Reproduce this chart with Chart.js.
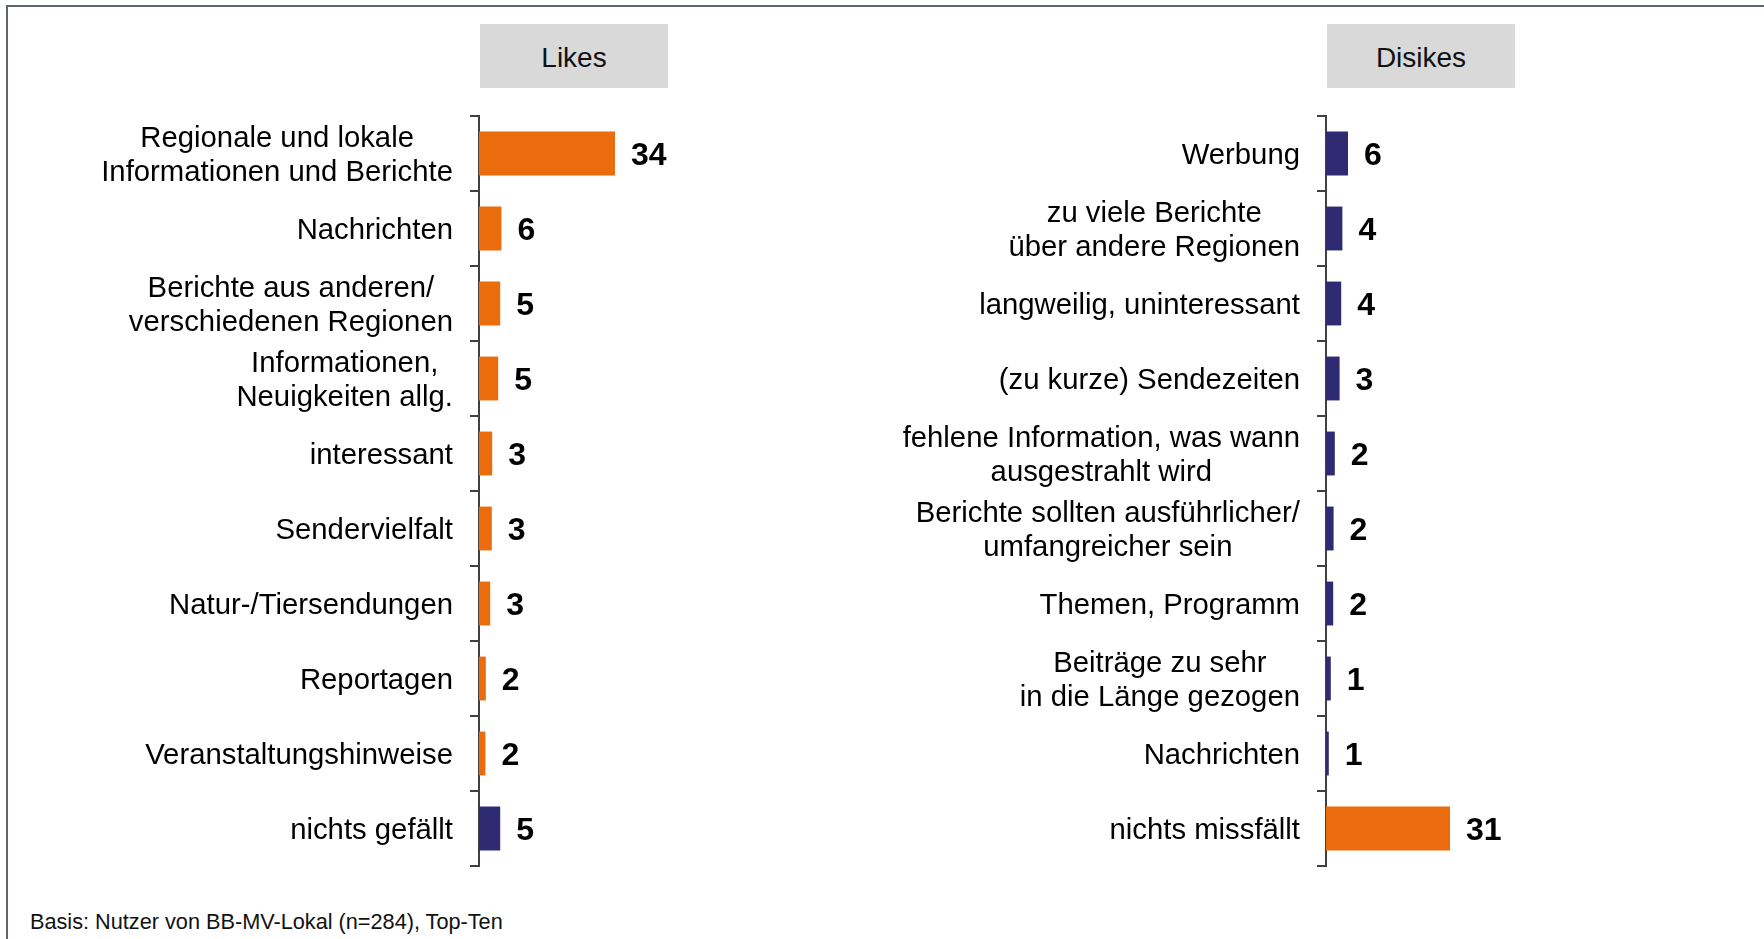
<!DOCTYPE html>
<html>
<head>
<meta charset="utf-8">
<script src="https://cdn.jsdelivr.net/npm/chart.js@4/dist/chart.umd.min.js"></script>
<style>
  body { margin: 0; background: #fff; width: 1764px; height: 939px; overflow: hidden; position: relative; font-family: "Liberation Sans", Arial, sans-serif; }
  #frame { position: absolute; left: 6px; top: 5px; width: 1800px; height: 1000px; border: 2px solid #5f6670; }
  .head { position: absolute; top: 24px; width: 188px; height: 64px; background: #d9d9d9; font-size: 28px; line-height: 68px; text-align: center; color: #111; }
  canvas { position: absolute; top: 106px; }
  #note { position: absolute; left: 30px; top: 909px; font-size: 21.7px; color: #111; }
</style>
</head>
<body>
<div id="frame"></div>
<div class="head" style="left:480px">Likes</div>
<div class="head" style="left:1327px">Disikes</div>
<canvas id="likesChart" width="879" height="770" style="left:0px"></canvas>
<canvas id="dislikesChart" width="846" height="770" style="left:880px"></canvas>
<div id="note">Basis: Nutzer von BB-MV-Lokal (n=284), Top-Ten</div>
<script>
const ORANGE = '#ea6c0d';
const NAVY = '#2e2b72';

// Likes
const likesCategories = [
    ['Regionale und lokale', 'Informationen und Berichte'],
    'Nachrichten',
    ['Berichte aus anderen/', 'verschiedenen Regionen'],
    ['Informationen,', 'Neuigkeiten allg.'],
    'interessant',
    'Sendervielfalt',
    'Natur-/Tiersendungen',
    'Reportagen',
    'Veranstaltungshinweise',
    'nichts gefällt'
];
const likesValues = [34, 5.6, 5.3, 4.8, 3.3, 3.2, 2.8, 1.7, 1.6, 5.3];
const likesLabels = [34, 6, 5, 5, 3, 3, 3, 2, 2, 5];

// Dislikes
const dislikesCategories = [
    'Werbung',
    ['zu viele Berichte', 'über andere Regionen'],
    'langweilig, uninteressant',
    '(zu kurze) Sendezeiten',
    ['fehlene Information, was wann', 'ausgestrahlt wird'],
    ['Berichte sollten ausführlicher/', 'umfangreicher sein'],
    'Themen, Programm',
    ['Beiträge zu sehr', 'in die Länge gezogen'],
    'Nachrichten',
    'nichts missfällt'
];
const dislikesValues = [5.5, 4.1, 3.8, 3.4, 2.2, 1.9, 1.8, 1.2, 0.7, 31];
const dislikesLabels = [6, 4, 4, 3, 2, 2, 2, 1, 1, 31];

const likesColors = likesValues.map((v, i) => i === likesValues.length - 1 ? NAVY : ORANGE);
const dislikesColors = dislikesValues.map((v, i) => i === dislikesValues.length - 1 ? ORANGE : NAVY);

// draws centred multi-line category labels, right aligned to the axis
const catLabels = {
    id: 'catLabels',
    afterDraw(chart) {
        const ctx = chart.ctx;
        const y = chart.scales.y;
        ctx.save();
        ctx.font = '29.3px "Liberation Sans", Arial, sans-serif';
        ctx.fillStyle = '#000';
        ctx.textAlign = 'center';
        ctx.textBaseline = 'middle';
        chart.data.labels.forEach((lab, i) => {
            const lines = Array.isArray(lab) ? lab : [lab];
            const w = Math.max(...lines.map(l => ctx.measureText(l).width));
            const cx = chart.chartArea.left - 26 - w / 2;
            const cy = y.getPixelForValue(i) + 2;
            lines.forEach((l, j) => {
                ctx.fillText(l, cx, cy + (j - (lines.length - 1) / 2) * 34);
            });
        });
        ctx.restore();
    }
};

// bold value next to each bar
const valueLabels = {
    id: 'valueLabels',
    afterDatasetsDraw(chart, args, opts) {
        const ctx = chart.ctx;
        ctx.save();
        ctx.font = 'bold 32px "Liberation Sans", Arial, sans-serif';
        ctx.fillStyle = '#000';
        ctx.textAlign = 'left';
        ctx.textBaseline = 'middle';
        chart.getDatasetMeta(0).data.forEach((bar, i) => {
            ctx.fillText(opts.texts[i], bar.x + 16, bar.y + 3);
        });
        ctx.restore();
    }
};

function makeConfig(categories, values, colors, texts, axisWidth) {
    return {
        type: 'bar',
        data: {
            labels: categories,
            datasets: [{
                data: values,
                backgroundColor: colors,
                borderWidth: 0,
                categoryPercentage: 1,
                barPercentage: 0.585
            }]
        },
        options: {
            indexAxis: 'y',
            responsive: false,
            animation: false,
            layout: { padding: { top: 10, bottom: 10, left: 0, right: 0 } },
            plugins: {
                legend: { display: false },
                tooltip: { enabled: false },
                valueLabels: { texts: texts }
            },
            scales: {
                x: { display: false, min: 0, max: 100 },
                y: {
                    afterFit(scale) { scale.width = axisWidth; },
                    ticks: { display: false },
                    grid: {
                        offset: true,
                        drawOnChartArea: false,
                        drawTicks: true,
                        tickLength: 9,
                        color: '#404040',
                        lineWidth: 2
                    },
                    border: { display: true, color: '#404040', width: 2 }
                }
            }
        },
        plugins: [catLabels, valueLabels]
    };
}

const likesChart = new Chart(
    document.getElementById('likesChart'),
    makeConfig(likesCategories, likesValues, likesColors, likesLabels, 479)
);
const dislikesChart = new Chart(
    document.getElementById('dislikesChart'),
    makeConfig(dislikesCategories, dislikesValues, dislikesColors, dislikesLabels, 446)
);
</script>
</body>
</html>
